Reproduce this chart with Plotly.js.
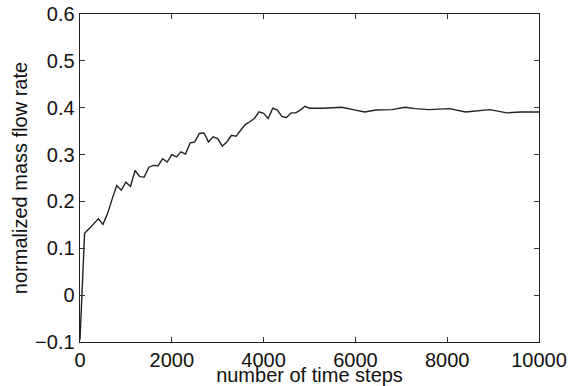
<!DOCTYPE html>
<html>
<head>
<meta charset="utf-8">
<script src="https://cdn.plot.ly/plotly-3.0.1.min.js"></script>
<style>
html,body{margin:0;padding:0;background:#fff;}
#chart{width:571px;height:386px;}
</style>
</head>
<body>
<div id="chart"></div>
<script>
// time steps
const steps = [0, 100, 200, 300, 400, 500, 600, 700, 800, 900,
  1000, 1100, 1200, 1300, 1400, 1500, 1600, 1700, 1800, 1900,
  2000, 2100, 2200, 2300, 2400, 2500, 2600, 2700, 2800, 2900,
  3000, 3100, 3200, 3300, 3400, 3500, 3600, 3700, 3800, 3900,
  4000, 4100, 4200, 4300, 4400, 4500, 4600, 4700, 4800, 4900,
  5000, 5300, 5700, 5950, 6200, 6450, 6800, 7080, 7300, 7600,
  8050, 8400, 8650, 8930, 9300, 9600, 10000];
// normalized mass flow rate
const flowRate = [-0.095, 0.132, 0.142, 0.153, 0.163, 0.151, 0.174, 0.205, 0.234, 0.224,
  0.241, 0.232, 0.266, 0.253, 0.252, 0.273, 0.277, 0.276, 0.291, 0.284,
  0.300, 0.295, 0.306, 0.301, 0.325, 0.327, 0.345, 0.346, 0.327, 0.338,
  0.334, 0.318, 0.327, 0.341, 0.339, 0.352, 0.364, 0.370, 0.377, 0.391,
  0.388, 0.377, 0.399, 0.395, 0.381, 0.379, 0.389, 0.389, 0.395, 0.403,
  0.399, 0.399, 0.401, 0.396, 0.391, 0.395, 0.396, 0.401, 0.398, 0.396,
  0.398, 0.391, 0.393, 0.396, 0.389, 0.391, 0.391];

const xTicks = [0, 2000, 4000, 6000, 8000, 10000];
const yTicks = [-0.1, 0, 0.1, 0.2, 0.3, 0.4, 0.5, 0.6];
const yTickText = ['\u22120.1', '0', '0.1', '0.2', '0.3', '0.4', '0.5', '0.6'];

const font = {family: '"Liberation Sans", Arial, Helvetica, sans-serif', size: 20, color: '#111'};

Plotly.newPlot('chart', [{
  x: steps, y: flowRate, type: 'scatter', mode: 'lines',
  line: {color: '#222', width: 1.4}
}], {
  width: 571, height: 386,
  margin: {l: 79.5, r: 32, t: 14.3, b: 44},
  paper_bgcolor: '#fff', plot_bgcolor: '#fff',
  showlegend: false,
  font: font,
  xaxis: {
    range: [0, 10000], tickvals: xTicks, ticktext: xTicks.map(String),
    ticks: 'inside', ticklen: 5, tickcolor: '#333', tickwidth: 1,
    showline: true, linecolor: '#222', linewidth: 1.4, mirror: 'ticks',
    showgrid: false, zeroline: false,
    tickfont: font,
    title: {text: 'number of time steps', font: font, standoff: 0},
    automargin: false
  },
  yaxis: {
    range: [-0.1, 0.6], tickvals: yTicks, ticktext: yTickText,
    ticks: 'inside', ticklen: 5, tickcolor: '#333', tickwidth: 1,
    showline: true, linecolor: '#222', linewidth: 1.4, mirror: 'ticks',
    showgrid: false, zeroline: false,
    tickfont: font,
    title: {text: 'normalized mass flow rate', font: font, standoff: 2},
    automargin: false
  }
}, {displayModeBar: false, staticPlot: true});
</script>
</body>
</html>
